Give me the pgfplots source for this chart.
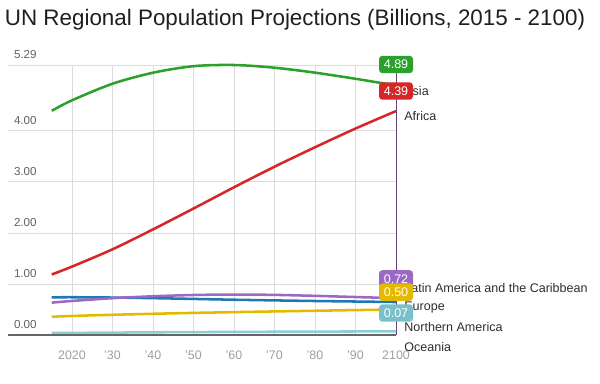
\documentclass[border=0pt]{standalone}
\usepackage{pgfplots}
\pgfplotsset{compat=1.18}
\usepackage{fontspec}
\setmainfont{Liberation Sans}
\definecolor{cAsia}{RGB}{44,160,44}
\definecolor{cAfrica}{RGB}{214,39,40}
\definecolor{cEurope}{RGB}{31,119,180}
\definecolor{cLatam}{RGB}{155,105,195}
\definecolor{cNam}{RGB}{228,186,0}
\definecolor{cOce}{RGB}{140,205,215}
\definecolor{cOceBox}{RGB}{120,192,204}
\definecolor{gridc}{RGB}{220,220,220}
\definecolor{txt}{RGB}{45,45,45}
\begin{document}
\begin{tikzpicture}
\useasboundingbox (0,0) rectangle (450pt,287.25pt);
\node[anchor=base west, font=\fontsize{16.8}{20}\selectfont, text=black!88, inner sep=0pt] at (3.5pt,268pt) {UN Regional Population Projections (Billions, 2015 - 2100)};
\begin{axis}[
  at={(6pt,36pt)}, anchor=south west,
  scale only axis, width=291pt, height=202.5pt,
  xmin=2004.2, xmax=2100, ymin=0, ymax=5.29,
  clip=false,
  axis line style={draw=none},
  xtick={2020,2030,2040,2050,2060,2070,2080,2090,2100},
  xticklabels={2020,'30,'40,'50,'60,'70,'80,'90,2100},
  ytick={0,1,2,3,4,5.29},
  yticklabels={0.00,1.00,2.00,3.00,4.00,5.29},
  major tick length=0pt,
  grid=major,
  major grid style={draw=gridc, line width=0.6pt},
  x tick label style={font=\fontsize{9.3}{10}\selectfont, text=black!38, yshift=-8pt},
  y tick label style={font=\fontsize{8.7}{10}\selectfont, text=black!62, anchor=south west, xshift=1pt, yshift=1pt},
  /pgf/number format/assume math mode=true,
  every axis plot/.append style={line width=1.9pt, smooth, no markers},
]
\addplot[cOce] coordinates {(2015,0.039)(2020,0.042)(2030,0.047)(2040,0.053)(2050,0.057)(2060,0.061)(2070,0.064)(2080,0.067)(2090,0.069)(2100,0.071)};
\addplot[cNam] coordinates {(2015,0.358)(2020,0.373)(2030,0.396)(2040,0.416)(2050,0.433)(2060,0.448)(2070,0.462)(2080,0.475)(2090,0.488)(2100,0.500)};
\addplot[cEurope] coordinates {(2015,0.738)(2020,0.740)(2030,0.734)(2040,0.722)(2050,0.707)(2060,0.691)(2070,0.678)(2080,0.666)(2090,0.656)(2100,0.646)};
\addplot[cLatam] coordinates {(2015,0.634)(2020,0.667)(2030,0.721)(2040,0.759)(2050,0.784)(2060,0.793)(2070,0.786)(2080,0.767)(2090,0.744)(2100,0.721)};
\addplot[cAfrica] coordinates {(2015,1.186)(2020,1.340)(2030,1.679)(2040,2.069)(2050,2.478)(2060,2.894)(2070,3.297)(2080,3.678)(2090,4.045)(2100,4.387)};
\addplot[cAsia] coordinates {(2015,4.393)(2020,4.598)(2030,4.923)(2040,5.139)(2050,5.267)(2060,5.290)(2070,5.237)(2080,5.140)(2090,5.020)(2100,4.889)};
% bottom axis line
\draw[black!60, line width=0.8pt] (axis cs:2004.2,0) -- (axis cs:2100,0);
% hover line
\draw[black!35!cLatam, line width=0.4pt] (axis cs:2100,0) -- (axis cs:2100,5.30);
% series labels
\begin{scope}[every node/.style={anchor=west, font=\fontsize{9.4}{10}\selectfont, text=txt, inner sep=0pt}]
\node at (axis cs:2102,4.78) {Asia};
\node at (axis cs:2102,4.29) {Africa};
\node at (axis cs:2102,0.92) {Latin America and the Caribbean};
\node at (axis cs:2102,0.53) {Europe};
\node at (axis cs:2102,0.16) {Northern America};
\node at (axis cs:2102,-0.24) {Oceania};
\end{scope}
% value boxes
\begin{scope}[every node/.style={rounded corners=2.5pt, minimum width=25.5pt, minimum height=13pt, inner sep=0pt, text=white, font=\fontsize{9.4}{10}\selectfont}]
\node[fill=cAsia] at (axis cs:2100,5.30) {4.89};
\node[fill=cAfrica] at (axis cs:2100,4.78) {4.39};
\node[fill=cLatam] at (axis cs:2100,1.10) {0.72};
\node[fill=cNam] at (axis cs:2100,0.84) {0.50};
\node[fill=cOceBox] at (axis cs:2100,0.43) {0.07};
\end{scope}
\end{axis}
\end{tikzpicture}
\end{document}
